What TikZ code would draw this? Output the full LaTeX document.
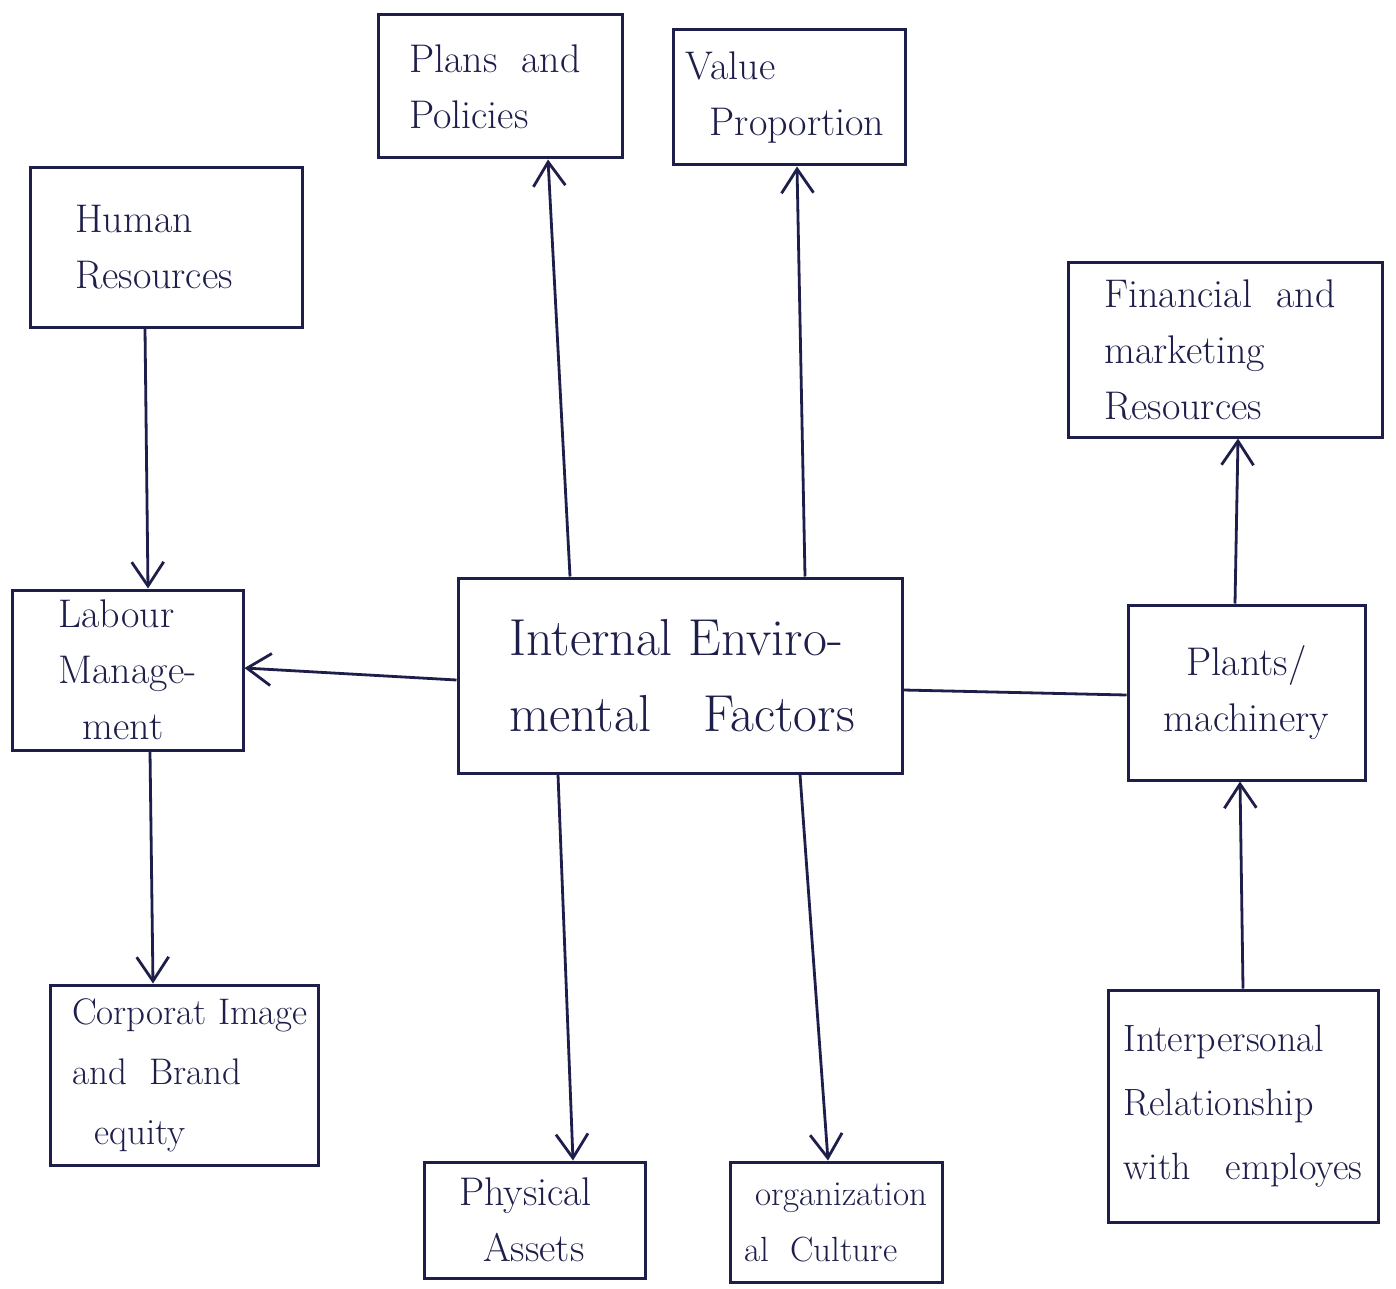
\documentclass[tikz,border=0pt]{standalone}
\usepackage{fontspec}
\usetikzlibrary{arrows.meta,fit,calc}
\definecolor{ink}{RGB}{30,30,75}
\begin{document}
\begin{tikzpicture}[x=0.5pt,y=-0.5pt,
  box/.style={draw=ink,line width=1.5pt,inner sep=0pt,fit={#1}},
  txt/.style={text=ink,align=left,inner sep=0pt,font=\fontsize{20}{28}\selectfont},
  arr/.style={draw=ink,line width=1.4pt,-{Straight Barb[length=12pt,width=16pt,line width=1.4pt]}},
  ln/.style={draw=ink,line width=1.4pt}]
\useasboundingbox[fill=white] (0,0) rectangle (1396,1289);
\node[box={(458,578)(902,773)}] (central) {};
\node[box={(378,15)(622,158)}] (plans) {};
\node[box={(673,30)(905,165)}] (value) {};
\node[box={(30,168)(302,327)}] (human) {};
\node[box={(1068,262)(1382,437)}] (fin) {};
\node[box={(12,590)(243,750)}] (labour) {};
\node[box={(1128,605)(1365,780)}] (plants) {};
\node[box={(50,985)(318,1165)}] (corp) {};
\node[box={(424,1162)(645,1278)}] (phys) {};
\node[box={(730,1162)(942,1282)}] (org) {};
\node[box={(1108,990)(1378,1222)}] (inter) {};
\node[txt,font=\fontsize{26}{38}\selectfont] (centralT) at ($(central)+(2,0)$) {Internal Enviro-\\mental\quad Factors};
\node[txt] (plansT) at ($(plans)+(-5,0)$) {Plans\ \ and\\Policies};
\node[txt] (valueT) at ($(value)+(-4,0)$) {Value\\\ \ Proportion};
\node[txt] (humanT) at ($(human)+(-12,0)$) {Human\\Resources};
\node[txt] (finT) at ($(fin)+(-5,0)$) {Financial\ \ and\\marketing\\Resources};
\node[txt] (labourT) at (labour) {Labour\\Manage-\\\ \ ment};
\node[txt,align=center] (plantsT) at (plants) {Plants/\\machinery};
\node[txt,font=\fontsize{18.5}{30}\selectfont] (corpT) at ($(corp)+(6,0)$) {Corporat Image\\and\ \ Brand\\\ \ equity};
\node[txt] (physT) at ($(phys)+(-9,0)$) {Physical\\\ \ Assets};
\node[txt,font=\fontsize{17.5}{28}\selectfont] (orgT) at (org) {\ organization\\al\ \ Culture};
\node[txt,font=\fontsize{19}{32}\selectfont] (interT) at (inter) {Interpersonal\\Relationship\\with\ \ \ employes};
\draw[arr] ($(central.north)+(-110,0)$) -- ($(plans.south)+(48,0)$);
\draw[arr] ($(central.north)+(125,0)$) -- ($(value.south)+(8,0)$);
\draw[arr] ($(human.south)+(-21,0)$) -- ($(labour.north)+(20.5,0)$);
\draw[arr] ($(central.west)+(0,4.5)$) -- ($(labour.east)+(0,-2)$);
\draw[arr] ($(labour.south)+(22.5,0)$) -- ($(corp.north)+(-31,0)$);
\draw[arr] ($(central.south)+(-122,0)$) -- ($(phys.north)+(38.5,0)$);
\draw[arr] ($(central.south)+(120,0)$) -- ($(org.north)+(-8,0)$);
\draw[ln] ($(central.east)+(0,14.5)$) -- ($(plants.west)+(0,2.5)$);
\draw[arr] ($(plants.north)+(-11.5,0)$) -- ($(fin.south)+(13,0)$);
\draw[arr] (inter.north) -- ($(plants.south)+(-6.5,0)$);
\end{tikzpicture}
\end{document}
